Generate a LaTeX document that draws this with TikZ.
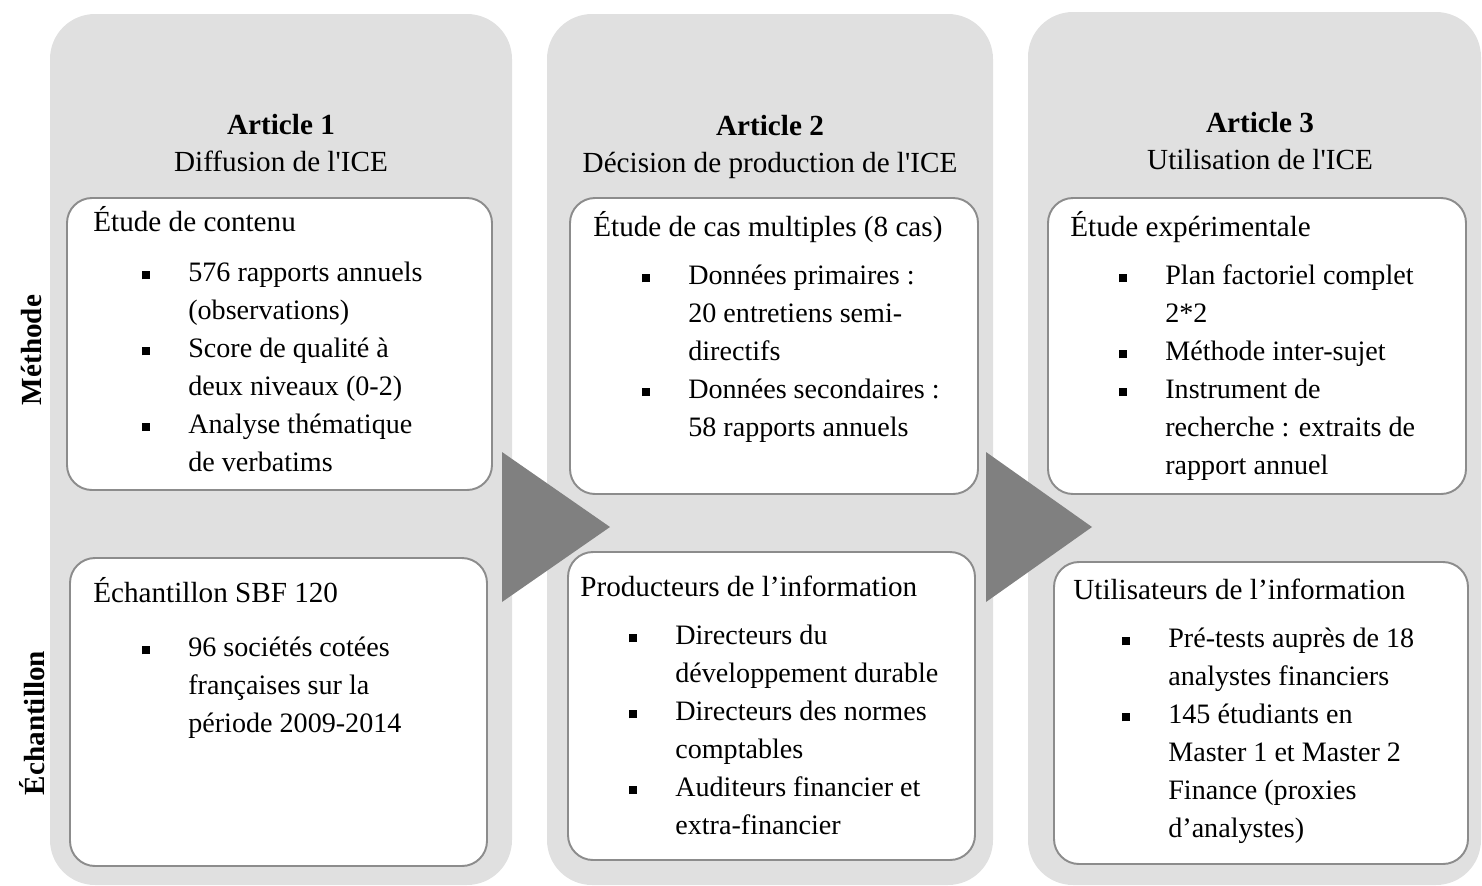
\documentclass[tikz,border=0pt]{standalone}
\usepackage{fontspec}
\setmainfont{Liberation Serif}[Ligatures=TeXOff]
\usepackage{tikz}
\usetikzlibrary{fit}

\definecolor{panelgray}{HTML}{E0E0E0}
\definecolor{boxline}{HTML}{8C8C8C}
\definecolor{flowgray}{HTML}{808080}
\newcommand{\cardfont}{\fontsize{16.6}{21.6}\selectfont}
\newcommand{\itemsize}{\fontsize{16}{21.8}\selectfont}
\newcommand{\blt}{\itemsize\hspace*{0.98cm}\makebox[0.92cm][l]{\rule[0.05cm]{0.16cm}{0.16cm}}}
\newcommand{\cnt}{\itemsize\hspace*{1.9cm}}

\begin{document}
\begin{tikzpicture}[x=0.02cm, y=-0.02cm,
    panel/.style={fill=panelgray, rounded corners=0.9cm, inner sep=0pt},
    card/.style={draw=boxline, line width=1.1pt, fill=white, rounded corners=0.5cm, inner sep=0pt},
    txt/.style={anchor=north west, inner sep=0pt, align=left, font=\cardfont},
    head/.style={align=center, inner sep=0pt, font=\cardfont},
    side/.style={rotate=90, inner sep=0pt, font=\cardfont\bfseries},
    flow/.style={fill=flowgray}
]
    \useasboundingbox (0,0) rectangle (1482,886);

    % Columns (one per article)
    \node[panel, fit={(50,14) (512,885)}] (col1) {};
    \node[panel, fit={(547,14) (993,885)}] (col2) {};
    \node[panel, fit={(1028,12) (1481,885)}] (col3) {};

    % Flow arrows between columns
    \fill[flow] (502,452) -- (610,527) -- (502,602) -- cycle;
    \fill[flow] (986,452) -- (1092,527) -- (986,602) -- cycle;

    % Row labels
    \node[side] (methode) at (32,350) {Méthode};
    \node[side] (echantillon) at (32,723) {Échantillon};

    % Titles
    \node[head] (art1) at (281,143) {\textbf{Article 1}\\Diffusion de l'ICE};
    \node[head] (art2) at (770,147) {\textbf{Article 2}\\Décision de production de l'ICE};
    \node[head] (art3) at (1260,141) {\textbf{Article 3}\\Utilisation de l'ICE};

    % Method cards
    \node[card, fit={(67,198) (492,490)}] (m1) {};
    \node[card, fit={(570,198) (978,494)}] (m2) {};
    \node[card, fit={(1048,198) (1466,494)}] (m3) {};

    % Sample cards
    \node[card, fit={(70,558) (487,866)}] (s1) {};
    \node[card, fit={(568,552) (975,860)}] (s2) {};
    \node[card, fit={(1054,562) (1468,864)}] (s3) {};

    % Card texts
    \node[txt] (m1txt) at (93,205) {\strut Étude de contenu\\[0.24cm]
        \blt 576 rapports annuels\\ \cnt (observations)\\
        \blt Score de qualité à\\ \cnt deux niveaux (0-2)\\
        \blt Analyse thématique\\ \cnt de verbatims};
    \node[txt] (m2txt) at (593,210) {\strut Étude de cas multiples (8 cas)\\[0.2cm]
        \blt Données primaires :\\ \cnt 20 entretiens semi-\\ \cnt directifs\\
        \blt Données secondaires :\\ \cnt 58 rapports annuels};
    \node[txt] (m3txt) at (1070,210) {\strut Étude expérimentale\\[0.2cm]
        \blt Plan factoriel complet\\ \cnt 2*2\\
        \blt Méthode inter-sujet\\
        \blt Instrument de\\ \cnt recherche : extraits de\\ \cnt rapport annuel};
    \node[txt] (s1txt) at (93,576) {\strut Échantillon SBF 120\\[0.32cm]
        \blt 96 sociétés cotées\\ \cnt françaises sur la\\ \cnt période 2009-2014};
    \node[txt] (s2txt) at (580,570) {\strut Producteurs de l’information\\[0.2cm]
        \blt Directeurs du\\ \cnt développement durable\\
        \blt Directeurs des normes\\ \cnt comptables\\
        \blt Auditeurs financier et\\ \cnt extra-financier};
    \node[txt] (s3txt) at (1073,573) {\strut Utilisateurs de l’information\\[0.2cm]
        \blt Pré-tests auprès de 18\\ \cnt analystes financiers\\
        \blt 145 étudiants en\\ \cnt Master 1 et Master 2\\ \cnt Finance (proxies\\ \cnt d’analystes)};
\end{tikzpicture}
\end{document}
